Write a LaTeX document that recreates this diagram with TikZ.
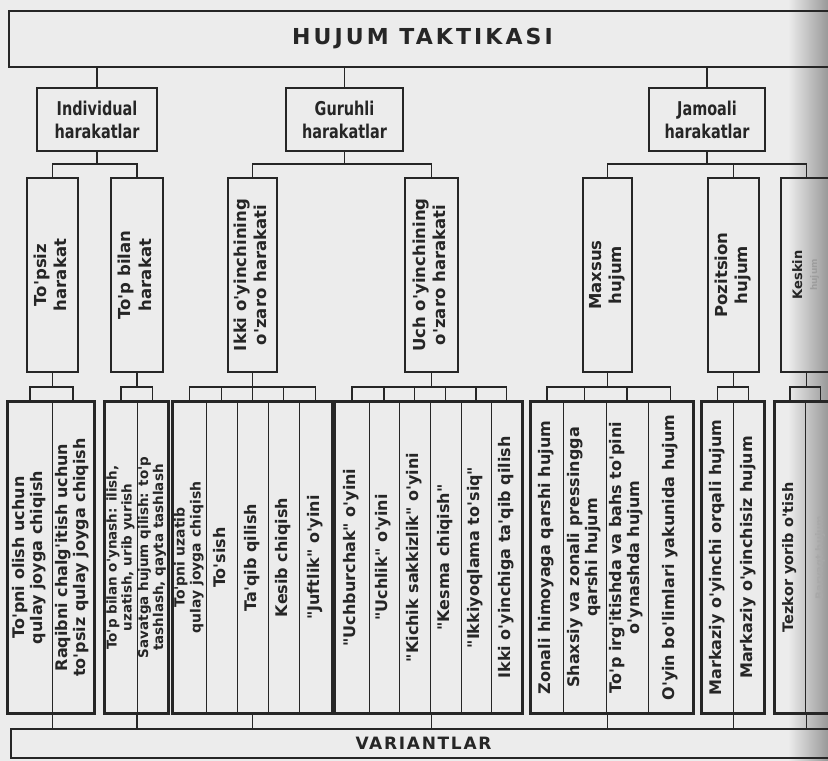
\documentclass[tikz,border=0pt]{standalone}
\usepackage{fontspec}
\newfontfamily\basefont{DejaVu Sans}
\newfontfamily\narrowfont{DejaVu Sans}[FakeStretch=0.76]
\newfontfamily\spacedfont{DejaVu Sans}[LetterSpace=14]
\newfontfamily\barfont{DejaVu Sans}[LetterSpace=10]
\usetikzlibrary{fit}

\definecolor{paper}{HTML}{ECECEC}
\definecolor{ink}{HTML}{262626}

% text set upright in a column, read from bottom to top
\newcommand{\vt}[1]{\rotatebox{90}{\begin{tabular}{@{}c@{}}#1\end{tabular}}}

\tikzset{
  frame/.style={draw=ink, line width=2.4pt, inner sep=0pt, text=ink},
  cell/.style={draw=ink, line width=1pt, inner sep=0pt, text=ink,
    minimum height=311pt, font=\basefont\bfseries\fontsize{16}{18}\selectfont},
  tightcell/.style={cell, font=\basefont\bfseries\fontsize{14}{16}\selectfont},
  smallcell/.style={cell, font=\basefont\bfseries\fontsize{13.5}{15}\selectfont},
  head/.style={frame, font=\narrowfont\bfseries\fontsize{19}{23}\selectfont,
    align=center, minimum height=63pt},
  kind/.style={frame, minimum height=194pt,
    font=\basefont\bfseries\fontsize{16.5}{20}\selectfont},
  group/.style={draw=ink, line width=2.4pt, inner sep=0pt},
  link/.style={draw=ink, line width=1.3pt},
}

\begin{document}
\begin{tikzpicture}[x=1pt, y=-1pt]
\useasboundingbox (0,0) rectangle (828,761);
\fill[paper] (0,0) rectangle (828,761);
\shade[left color=paper, right color=black!40] (788,0) rectangle (828,761);

% title
\node[frame, minimum width=827pt, minimum height=56pt,
  font=\spacedfont\bfseries\fontsize{22}{26}\selectfont] (title) at (422.5,39) {HUJUM TAKTIKASI};

% kinds of actions
\node[head, minimum width=120pt] (ind) at (97,119.5) {Individual\\harakatlar};
\node[head, minimum width=117pt] (gur) at (344.5,119.5) {Guruhli\\harakatlar};
\node[head, minimum width=116pt] (jam) at (707,119.5) {Jamoali\\harakatlar};

% second level
\node[kind, minimum width=51pt] (t1) at (52.5,275) {\vt{To'psiz\\harakat}};
\node[kind, minimum width=52pt] (t2) at (137,275) {\vt{To'p bilan\\harakat}};
\node[kind, minimum width=49pt] (t3) at (252.5,275) {\vt{Ikki o'yinchining\\o'zaro harakati}};
\node[kind, minimum width=53pt] (t4) at (431.5,275) {\vt{Uch o'yinchining\\o'zaro harakati}};
\node[kind, minimum width=49pt] (t5) at (607.5,275) {\vt{Maxsus\\hujum}};
\node[kind, minimum width=51pt] (t6) at (733.5,275) {\vt{Pozitsion\\hujum}};
\node[kind, minimum width=51pt, font=\basefont\bfseries\fontsize{13}{15}\selectfont] (t7) at (806.5,275)
  {\vt{Keskin\\{\fontsize{9}{11}\selectfont\color{ink!45}hujum}}};

% variants, group 1
\node[cell, minimum width=44pt] (a1) at (30,557.5) {\vt{To'pni olish uchun\\qulay joyga chiqish}};
\node[cell, minimum width=42pt] (a2) at (73,557.5) {\vt{Raqibni chalg'itish uchun\\to'psiz qulay joyga chiqish}};
% group 2
\node[smallcell, minimum width=32pt] (b1) at (121,557.5) {\vt{To'p bilan o'ynash: ilish,\\uzatish, urib yurish}};
\node[smallcell, minimum width=31pt] (b2) at (152.5,557.5) {\vt{Savatga hujum qilish: to'p\\tashlash, qayta tashlash}};
% group 3
\node[tightcell, minimum width=33pt] (c1) at (189.5,557.5) {\vt{To'pni uzatib\\qulay joyga chiqish}};
\node[cell, minimum width=31pt] (c2) at (221.5,557.5) {\vt{To'sish}};
\node[cell, minimum width=31pt] (c3) at (252.5,557.5) {\vt{Ta'qib qilish}};
\node[cell, minimum width=31pt] (c4) at (283.5,557.5) {\vt{Kesib chiqish}};
\node[cell, minimum width=33pt] (c5) at (315.5,557.5) {\vt{"Juftlik" o'yini}};
% group 4
\node[cell, minimum width=34pt] (d1) at (352,557.5) {\vt{"Uchburchak" o'yini}};
\node[cell, minimum width=30pt] (d2) at (384,557.5) {\vt{"Uchlik" o'yini}};
\node[cell, minimum width=31pt] (d3) at (414.5,557.5) {\vt{"Kichik sakkizlik" o'yini}};
\node[cell, minimum width=31pt] (d4) at (445.5,557.5) {\vt{"Kesma chiqish"}};
\node[cell, minimum width=30pt] (d5) at (476,557.5) {\vt{"Ikkiyoqlama to'siq"}};
\node[cell, minimum width=31pt] (d6) at (506.5,557.5) {\vt{Ikki o'yinchiga ta'qib qilish}};
% group 5
\node[cell, minimum width=32pt] (e1) at (547,557.5) {\vt{Zonali himoyaga qarshi hujum}};
\node[cell, minimum width=43pt] (e2) at (584.5,557.5) {\vt{Shaxsiy va zonali pressingga\\qarshi hujum}};
\node[cell, minimum width=42pt] (e3) at (627,557.5) {\vt{To'p irg'itishda va bahs to'pini\\o'ynashda hujum}};
\node[cell, minimum width=45pt] (e4) at (670.5,557.5) {\vt{O'yin bo'limlari yakunida hujum}};
% group 6
\node[cell, minimum width=31pt] (f1) at (717.5,557.5) {\vt{Markaziy o'yinchi orqali hujum}};
\node[cell, minimum width=31pt] (f2) at (748.5,557.5) {\vt{Markaziy o'yinchisiz hujum}};
% group 7
\node[cell, minimum width=30pt, font=\basefont\bfseries\fontsize{14.5}{16}\selectfont] (h1) at (790,557.5) {\vt{Tezkor yorib o'tish}};
\node[cell, minimum width=31pt, font=\basefont\bfseries\fontsize{10}{12}\selectfont, text=ink!40] (h2) at (820.5,557.5) {\vt{Barvaqt hujum}};

% outer frames of the variant groups
\node[group, fit=(a1)(a2)] (g1) {};
\node[group, fit=(b1)(b2)] (g2) {};
\node[group, fit=(c1)(c5)] (g3) {};
\node[group, fit=(d1)(d6)] (g4) {};
\node[group, fit=(e1)(e4)] (g5) {};
\node[group, fit=(f1)(f2)] (g6) {};
\node[group, fit=(h1)(h2)] (g7) {};

% bottom bar
\node[frame, minimum width=825pt, minimum height=29pt,
  font=\barfont\bfseries\fontsize{17}{20}\selectfont] (var) at (423.5,743.5) {VARIANTLAR};

% title to kinds
\foreach \k in {ind,gur,jam}
  \draw[link] (\k.north) -- (\k.north |- title.south);

% kinds to second level
\coordinate (busA) at (0,164);
\draw[link] (ind.south) -- (ind.south |- busA);
\draw[link] (gur.south) -- (gur.south |- busA);
\draw[link] (jam.south) -- (jam.south |- busA);
\draw[link] (t1.north) -- (t1.north |- busA) -- (t2.north |- busA) -- (t2.north);
\draw[link] (t3.north) -- (t3.north |- busA) -- (t4.north |- busA) -- (t4.north);
\draw[link] (t5.north) -- (t5.north |- busA) -- (t7.north |- busA) -- (t7.north);
\draw[link] (t6.north) -- (t6.north |- busA);

% second level to variants
\coordinate (busB) at (0,387);
\foreach \t in {t1,t2,t3,t4,t5,t6,t7}
  \draw[link] (\t.south) -- (\t.south |- busB);
\draw[link] (a1.north) -- (a1.north |- busB) -- (a2.north |- busB) -- (a2.north);
\draw[link] (b1.north) -- (b1.north |- busB) -- (b2.north |- busB) -- (b2.north);
\draw[link] (c1.north) -- (c1.north |- busB) -- (c5.north |- busB) -- (c5.north);
\draw[link] (d1.north) -- (d1.north |- busB) -- (d6.north |- busB) -- (d6.north);
\draw[link] (e1.north) -- (e1.north |- busB) -- (e4.north |- busB) -- (e4.north);
\draw[link] (f1.north) -- (f1.north |- busB) -- (f2.north |- busB) -- (f2.north);
\draw[link] (h1.north) -- (h1.north |- busB) -- (h2.north |- busB) -- (h2.north);
\foreach \c in {c2,c3,c4,d2,d3,d4,d5,e2,e3}
  \draw[link] (\c.north) -- (\c.north |- busB);

% variants to the bottom bar
\draw[link] (g1.south -| t1) -- (var.north -| t1);
\draw[link] (g2.south -| t2) -- (var.north -| t2);
\draw[link] (g3.south -| t3) -- (var.north -| t3);
\draw[link] (g4.south -| t4) -- (var.north -| t4);
\draw[link] (g5.south -| t5) -- (var.north -| t5);
\draw[link] (g6.south -| t6) -- (var.north -| t6);
\draw[link] (g7.south -| t7) -- (var.north -| t7);
\end{tikzpicture}
\end{document}
